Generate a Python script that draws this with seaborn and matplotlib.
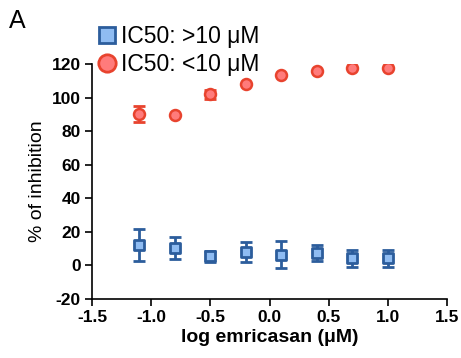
import matplotlib
matplotlib.use('Agg')
import matplotlib.pyplot as plt
import numpy as np
import pandas as pd
import seaborn as sns

# log emricasan concentration (uM)
log_conc = [-1.1, -0.8, -0.5, -0.2, 0.1, 0.4, 0.7, 1.0]

# % inhibition, IC50 > 10 uM group
high_mean = [12, 10.4, 5.4, 8, 6.4, 7.4, 4.2, 4.2]
high_err = [9.5, 6.5, 3.2, 6, 8, 5, 5.2, 5]

# % inhibition, IC50 < 10 uM group
low_mean = [90, 89.5, 102, 108, 113.5, 115.8, 117.5, 117.5]
low_err = [4.8, 0, 2.8, 0, 0, 0, 0, 0]

labels = ['IC50: >10 \u03bcM', 'IC50: <10 \u03bcM']

blue_face, blue_edge = '#8fbcf2', '#2c5d9c'
red_face, red_edge = '#ff7b7b', '#e8432e'

df = pd.DataFrame({
    'x': log_conc * 2,
    'y': high_mean + low_mean,
    'err': high_err + low_err,
    'group': [labels[0]] * 8 + [labels[1]] * 8,
})

sns.set_style('ticks')
plt.rcParams['font.family'] = ['Liberation Sans', 'DejaVu Sans']
plt.rcParams['text.color'] = 'black'
plt.rcParams['axes.labelcolor'] = 'black'
plt.rcParams['axes.unicode_minus'] = False

fig = plt.figure(figsize=(4.61, 3.58), dpi=100)
ax = fig.add_axes([0.1996, 0.1648, 0.77, 0.6564])

# error bars first, then markers on top
for lab, col in zip(labels, [blue_edge, red_edge]):
    sub = df[df['group'] == lab]
    ax.errorbar(sub['x'], sub['y'], yerr=sub['err'], fmt='none', ecolor=col,
                elinewidth=2, capsize=4, capthick=2, zorder=2)

sns.scatterplot(data=df[df['group'] == labels[0]], x='x', y='y', marker='s', s=60,
                color=blue_face, edgecolor=blue_edge, linewidth=2, ax=ax, zorder=3,
                legend=False)
sns.scatterplot(data=df[df['group'] == labels[1]], x='x', y='y', marker='o', s=62,
                color=red_face, edgecolor=red_edge, linewidth=1.8, ax=ax, zorder=3,
                legend=False)

ax.set_xlim(-1.5, 1.5)
ax.set_ylim(-20, 120)
ax.set_xticks(np.arange(-1.5, 1.51, 0.5))
ax.set_yticks(np.arange(-20, 121, 20))
ax.set_xticklabels(['%.1f' % v for v in np.arange(-1.5, 1.51, 0.5)])
for lbl in ax.get_xticklabels() + ax.get_yticklabels():
    lbl.set_fontweight('bold')
    lbl.set_fontsize(12.5)
ax.tick_params(direction='out', length=5, width=1.2, colors='black', pad=3)
for sp in ['left', 'bottom']:
    ax.spines[sp].set_linewidth(1.2)
    ax.spines[sp].set_color('black')
sns.despine(ax=ax)

ax.set_xlabel('log emricasan (\u03bcM)', fontsize=14, fontweight='bold', labelpad=3)
ax.set_ylabel('% of inhibition', fontsize=14, labelpad=4)

handles = [
    plt.Line2D([], [], marker='s', linestyle='none', markersize=11,
               markerfacecolor=blue_face, markeredgecolor=blue_edge, markeredgewidth=2),
    plt.Line2D([], [], marker='o', linestyle='none', markersize=12.5,
               markerfacecolor=red_face, markeredgecolor=red_edge, markeredgewidth=2),
]
fig.legend(handles, labels, loc='upper left', bbox_to_anchor=(0.175, 0.975),
           frameon=False, fontsize=16.5, handletextpad=0.15, labelspacing=0.2,
           handlelength=0.9, borderpad=0.2, labelcolor='black')

fig.text(0.02, 0.975, 'A', fontsize=18, va='top', ha='left')

fig.savefig('out.png', dpi=100)
